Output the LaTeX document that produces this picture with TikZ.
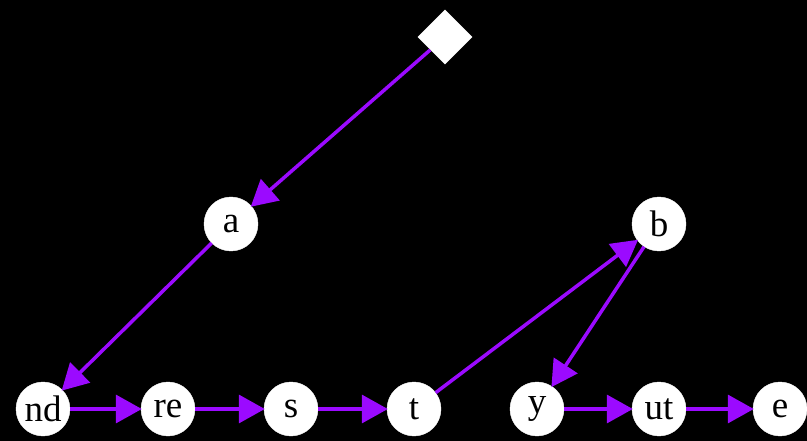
\documentclass[tikz,border=0pt]{standalone}
\usepackage{fontspec}
\setmainfont{Liberation Serif}
\usetikzlibrary{shapes.geometric,arrows.meta}
\definecolor{arrowpurple}{RGB}{155,10,255}
\begin{document}
\begin{tikzpicture}[x=1pt,y=-1pt,
  vnode/.style={circle,fill=white,draw=white,minimum size=54pt,inner sep=0pt,font=\fontsize{37}{37}\selectfont,text=black},
  root/.style={diamond,fill=white,minimum size=55pt,inner sep=0pt},
  edge/.style={draw=arrowpurple,line width=3.5pt,-{Triangle[length=26pt,width=28pt]},shorten >=-1pt}]
\fill[black] (0,0) rectangle (807,441);
\useasboundingbox (0,0) rectangle (807,441);
\node[root] (r) at (445,37) {};
\node[vnode] (a) at (231,224) {a};
\node[vnode] (b) at (659,224) {b};
\node[vnode] (nd) at (43,409) {nd};
\node[vnode] (re) at (168,409) {re};
\node[vnode] (s) at (291,409) {s};
\node[vnode] (t) at (414,409) {t};
\node[vnode] (y) at (537,409) {y};
\node[vnode] (ut) at (659,409) {ut};
\node[vnode] (e) at (780,409) {e};
\draw[edge] (r) -- (a);
\draw[edge] (a) -- (nd);
\draw[edge] (nd) -- (re);
\draw[edge] (re) -- (s);
\draw[edge] (s) -- (t);
\draw[edge] (t) -- (b);
\draw[edge] (b) -- (y);
\draw[edge] (y) -- (ut);
\draw[edge] (ut) -- (e);
\end{tikzpicture}
\end{document}
